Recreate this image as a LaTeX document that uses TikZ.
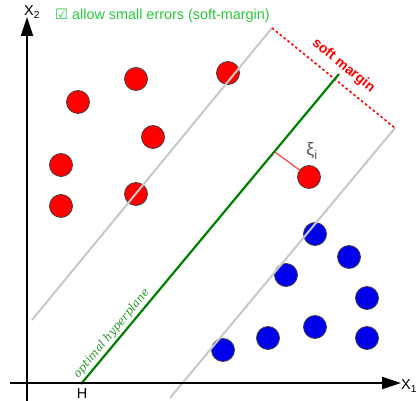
\documentclass[tikz,border=0pt]{standalone}
\usepackage{fontspec}
\usepackage{tikz}
\usetikzlibrary{arrows.meta}
\newfontfamily\arialfont{Liberation Sans}
\newfontfamily\symfont{DejaVu Sans}
\newfontfamily\serifit{DejaVu Serif Italic}
\definecolor{lightgreen}{RGB}{40,200,60}
\definecolor{darkgreen}{RGB}{0,128,0}
\definecolor{labelgreen}{RGB}{40,150,40}
\definecolor{ptred}{RGB}{255,0,0}
\definecolor{ptblue}{RGB}{0,0,235}
\definecolor{margingray}{RGB}{200,200,200}
\begin{document}
\begin{tikzpicture}[x=1pt,y=-1pt,>={Triangle[length=19pt,width=12pt]},
  redpt/.style={draw=black!75,circle,fill=ptred,minimum size=23pt,inner sep=0pt,line width=0.8pt},
  bluept/.style={draw=black!75,circle,fill=ptblue,minimum size=23pt,inner sep=0pt,line width=0.8pt},
  marginline/.style={margingray,line width=2pt},
  axis/.style={->,line width=2pt,black},
  lbl/.style={font=\arialfont\fontsize{14.5}{16}\selectfont}]
\useasboundingbox (0,0) rectangle (416,401);
% data points
\node[redpt] (R1) at (136,79) {};
\node[redpt] (R2) at (78,102) {};
\node[redpt] (R3) at (153,137) {};
\node[redpt] (R4) at (61,165) {};
\node[redpt] (R5) at (61,206) {};
\node[redpt] (R6) at (136,194) {};
\node[redpt] (R7) at (228,73) {};
\node[redpt] (R8) at (309,177) {};
\node[bluept] (B1) at (315,234) {};
\node[bluept] (B2) at (349,257) {};
\node[bluept] (B3) at (286,275) {};
\node[bluept] (B4) at (367,298) {};
\node[bluept] (B5) at (315,327) {};
\node[bluept] (B6) at (268,338) {};
\node[bluept] (B7) at (367,338) {};
\node[bluept] (B8) at (223,350) {};
% margins and hyperplane
\coordinate (U0) at (32,320);
\coordinate (U1) at (272,28);
\coordinate (L0) at (170,398);
\coordinate (L1) at (395,128);
\coordinate (H0) at (81,384);
\coordinate (H1) at (339,74);
\coordinate (F) at (275,152);
\draw[marginline] (U0) -- (U1);
\draw[marginline] (L0) -- (L1);
\draw[ptred,line width=1.6pt,dash pattern=on 2.5pt off 2.5pt] (U1) -- node[above,sloped,text=ptred,font=\arialfont\bfseries\fontsize{14}{16}\selectfont,yshift=5pt] {soft margin} (L1);
\draw[darkgreen,line width=2.2pt] (H0) -- node[pos=0.145,above,sloped,text=labelgreen,font=\serifit\fontsize{11.3}{13}\selectfont,inner sep=2pt] {optimal hyperplane} (H1);
\draw[ptred!75,line width=1.2pt] (F) -- (R8);
\node[text=black!65,font=\arialfont\fontsize{18}{20}\selectfont,inner sep=0pt] (XI) at (312,151) {ξ\textsubscript{i}};
% axes
\coordinate (O1) at (10,383);
\coordinate (E1) at (401,383);
\coordinate (O2) at (27,401);
\coordinate (E2) at (27,17);
\draw[axis] (O1) -- (E1);
\draw[axis] (O2) -- (E2);
\node[lbl,anchor=west,inner sep=1pt] (X1) at (400,386) {X\textsubscript{1}};
\node[lbl,inner sep=1pt] (X2) at (32,12) {X\textsubscript{2}};
\node[lbl] (H) at (82,394) {H};
\node[text=lightgreen,font=\arialfont\fontsize{14.4}{16}\selectfont,anchor=west,inner sep=0pt] (NOTE) at (55,16) {{\symfont ☑} allow small errors (soft-margin)};
\end{tikzpicture}
\end{document}
